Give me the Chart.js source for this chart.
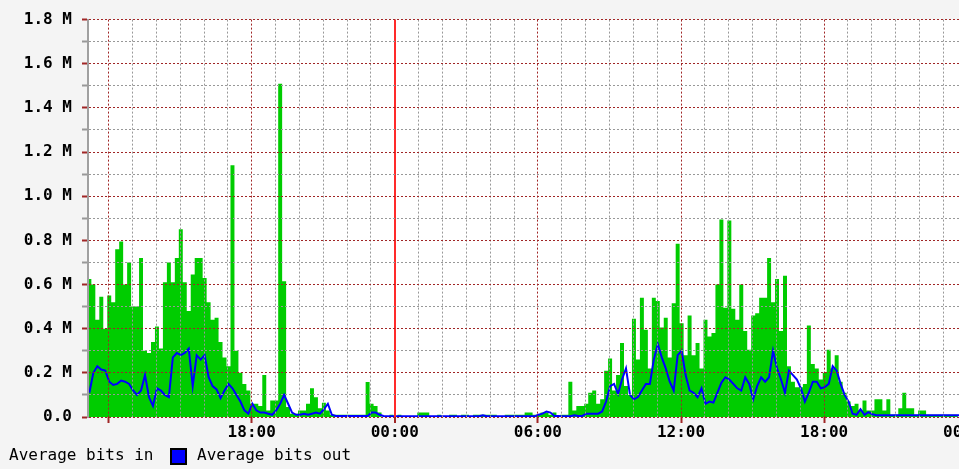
<!DOCTYPE html>
<html>
<head>
<meta charset="utf-8">
<title>Traffic</title>
<script src="https://cdn.jsdelivr.net/npm/chart.js@4.4.0/dist/chart.umd.min.js"></script>
<style>
  html, body { margin: 0; padding: 0; background: #f4f4f4; overflow: hidden; }
  #chart-container { position: absolute; left: 0; top: 0; width: 1000px; height: 469px; }
  .legend-text { position: absolute; top: 447px; font: 16px "DejaVu Sans Mono", monospace; line-height: 16px; color: #000; white-space: pre; }
  .legend-box { position: absolute; left: 170px; top: 448px; width: 13px; height: 13px; background: #0000ff; border: 2px solid #000; }
</style>
</head>
<body>
<div id="chart-container"><canvas id="myChart"></canvas></div>
<div class="legend-text" style="left:9px">Average bits in</div>
<div class="legend-box"></div>
<div class="legend-text" style="left:197px">Average bits out</div>
<script>
// sampel tiap 10 menit, jam dihitung dari tengah malam hari pertama (24 = 00:00)
const startHour = 11.11;
const stepHour = 1 / 6;

// rata-rata bit masuk (M)
const bitsIn = [
  0.42, 0.625, 0.60, 0.44, 0.545, 0.40, 0.55, 0.52, 0.76, 0.795,
  0.60, 0.70, 0.50, 0.50, 0.72, 0.30, 0.29, 0.34, 0.41, 0.31,
  0.61, 0.70, 0.61, 0.72, 0.85, 0.61, 0.48, 0.645, 0.72, 0.72,
  0.63, 0.52, 0.44, 0.45, 0.34, 0.27, 0.23, 1.14, 0.30, 0.20,
  0.15, 0.12, 0.06, 0.06, 0.05, 0.19, 0.03, 0.075, 0.075, 1.51,
  0.615, 0.045, 0.015, 0.015, 0.03, 0.03, 0.06, 0.13, 0.09, 0.04,
  0.065, 0.03, 0.01, 0.01, 0.01, 0.01, 0.01, 0.01, 0.01, 0.01,
  0.01, 0.158, 0.06, 0.05, 0.02, 0, 0, 0.01, 0, 0.01,
  0, 0, 0, 0, 0.02, 0.02, 0.02, 0, 0, 0.01,
  0, 0, 0.01, 0.01, 0, 0.01, 0.01, 0, 0.01, 0.01,
  0.01, 0.01, 0.01, 0.01, 0, 0, 0.01, 0.01, 0.01, 0.01,
  0.01, 0.02, 0.02, 0.01, 0.01, 0.02, 0.02, 0.01, 0.02, 0,
  0.01, 0.01, 0.16, 0.03, 0.05, 0.05, 0.06, 0.11, 0.12, 0.06,
  0.08, 0.21, 0.265, 0.12, 0.19, 0.335, 0.14, 0.10, 0.445, 0.26,
  0.54, 0.395, 0.22, 0.54, 0.525, 0.405, 0.45, 0.27, 0.515, 0.785,
  0.425, 0.28, 0.46, 0.28, 0.335, 0.22, 0.44, 0.365, 0.38, 0.60,
  0.895, 0.495, 0.89, 0.49, 0.44, 0.60, 0.39, 0.305, 0.46, 0.47,
  0.54, 0.54, 0.72, 0.52, 0.625, 0.39, 0.64, 0.23, 0.16, 0.135,
  0.135, 0.15, 0.415, 0.24, 0.22, 0.17, 0.20, 0.305, 0.22, 0.28,
  0.16, 0.11, 0.07, 0.05, 0.06, 0.03, 0.075, 0.03, 0.03, 0.08,
  0.08, 0.03, 0.08, 0.01, 0.01, 0.04, 0.11, 0.04, 0.04, 0.01,
  0.03, 0.03, 0.01, 0.01, 0.01, 0.01, 0.01, 0.01, 0.01, 0.01
];

// rata-rata bit keluar (M)
const bitsOut = [
  0.11, 0.20, 0.23, 0.215, 0.21, 0.16, 0.145, 0.15, 0.165, 0.16,
  0.15, 0.12, 0.10, 0.12, 0.19, 0.09, 0.05, 0.13, 0.12, 0.10,
  0.09, 0.27, 0.29, 0.28, 0.29, 0.31, 0.14, 0.28, 0.26, 0.28,
  0.18, 0.14, 0.125, 0.085, 0.12, 0.15, 0.13, 0.10, 0.07, 0.03,
  0.015, 0.06, 0.03, 0.02, 0.02, 0.015, 0.01, 0.03, 0.06, 0.10,
  0.06, 0.02, 0.01, 0.01, 0.015, 0.01, 0.015, 0.02, 0.015, 0.035,
  0.06, 0.01, 0.005, 0.005, 0.005, 0.005, 0.005, 0.005, 0.005, 0.005,
  0.005, 0.02, 0.02, 0.01, 0.005, 0.003, 0.003, 0.003, 0.003, 0.003,
  0.003, 0.003, 0.003, 0.003, 0.003, 0.003, 0.003, 0.003, 0.003, 0.003,
  0.003, 0.003, 0.003, 0.003, 0.003, 0.003, 0.003, 0.003, 0.003, 0.008,
  0.003, 0.003, 0.003, 0.003, 0.003, 0.003, 0.003, 0.003, 0.003, 0.003,
  0.003, 0.003, 0.003, 0.01, 0.015, 0.025, 0.02, 0.005, 0.005, 0.003,
  0.003, 0.003, 0.008, 0.005, 0.005, 0.015, 0.015, 0.015, 0.015, 0.025,
  0.07, 0.14, 0.15, 0.105, 0.17, 0.22, 0.10, 0.08, 0.09, 0.12,
  0.15, 0.15, 0.26, 0.33, 0.27, 0.22, 0.16, 0.12, 0.28, 0.30,
  0.19, 0.12, 0.11, 0.09, 0.13, 0.06, 0.07, 0.065, 0.11, 0.155,
  0.18, 0.17, 0.15, 0.13, 0.12, 0.18, 0.15, 0.08, 0.14, 0.18,
  0.16, 0.18, 0.30, 0.22, 0.17, 0.11, 0.21, 0.19, 0.17, 0.13,
  0.07, 0.11, 0.16, 0.16, 0.13, 0.135, 0.15, 0.23, 0.21, 0.15,
  0.10, 0.07, 0.015, 0.01, 0.035, 0.01, 0.022, 0.012, 0.008, 0.008,
  0.008, 0.008, 0.008, 0.008, 0.008, 0.008, 0.008, 0.008, 0.008, 0.008,
  0.008, 0.008, 0.008, 0.008, 0.008, 0.008, 0.008, 0.008, 0.008, 0.008
];

// label sumbu
const timeTickHours = [18, 24, 30, 36, 42, 48];
const timeTickLabels = ['18:00', '00:00', '06:00', '12:00', '18:00', '00:00'];
const rateTickLabels = ['0.0', '0.2 M', '0.4 M', '0.6 M', '0.8 M', '1.0 M', '1.2 M', '1.4 M', '1.6 M', '1.8 M'];

const gridRed = '#a02626';
const gridGray = '#989898';
const midnightRed = '#ff2a2a';
const tickFont = { family: 'DejaVu Sans Mono', size: 16, weight: 'bold' };

const inPoints = bitsIn.map((v, i) => ({ x: startHour + i * stepHour, y: v }));
const outPoints = bitsOut.map((v, i) => ({ x: startHour + (i + 0.5) * stepHour, y: v }));

// latar putih hanya di area plot
const plotBackground = {
  id: 'plotBackground',
  beforeDraw(chart) {
    const { ctx, chartArea: a } = chart;
    ctx.save();
    ctx.fillStyle = '#ffffff';
    ctx.fillRect(a.left, a.top, a.right - a.left, a.bottom - a.top);
    ctx.restore();
  }
};

function hourOf(ctx) {
  return ctx.tick ? Math.round(ctx.tick.value) : null;
}

function isMidnight(ctx) {
  const h = hourOf(ctx);
  return h !== null && h % 24 === 0;
}

function isSixHour(ctx) {
  const h = hourOf(ctx);
  return h !== null && h % 6 === 0;
}

function isEvenRate(ctx) {
  return ctx.tick ? Math.round(ctx.tick.value * 10) % 2 === 0 : false;
}

const ctx = document.getElementById('myChart').getContext('2d');
new Chart(ctx, {
  type: 'line',
  data: {
    datasets: [
      {
        label: 'Average bits in',
        data: inPoints,
        stepped: 'after',
        fill: 'origin',
        backgroundColor: '#00cc00',
        borderColor: '#00cc00',
        borderWidth: 0,
        pointRadius: 0,
        order: 2
      },
      {
        label: 'Average bits out',
        data: outPoints,
        fill: false,
        borderColor: '#0000ff',
        borderWidth: 2,
        tension: 0,
        pointRadius: 0,
        order: 1
      }
    ]
  },
  options: {
    responsive: true,
    maintainAspectRatio: false,
    animation: false,
    layout: { padding: { left: 0, top: 15, right: 0, bottom: 0 } },
    plugins: {
      legend: { display: false },
      tooltip: { enabled: false }
    },
    scales: {
      x: {
        type: 'linear',
        min: 11.136,
        max: 49.375,
        afterFit: (scale) => { scale.height = 52; },
        ticks: {
          stepSize: 1,
          autoSkip: false,
          includeBounds: false,
          maxRotation: 0,
          padding: 0,
          color: '#000',
          font: tickFont,
          callback: (v) => {
            const k = timeTickHours.indexOf(Math.round(v));
            return k >= 0 ? timeTickLabels[k] : '';
          }
        },
        grid: {
          z: 1,
          tickLength: 6,
          color: (c) => isMidnight(c) ? midnightRed : (isSixHour(c) ? gridRed : gridGray),
          lineWidth: (c) => isMidnight(c) ? 2 : 1,
          tickColor: (c) => isSixHour(c) ? gridRed : 'rgba(0,0,0,0)',
          tickWidth: 2
        },
        border: {
          display: false,
          z: 2,
          dash: (c) => isMidnight(c) ? [] : [2, 2]
        }
      },
      y: {
        min: 0,
        max: 1.8,
        afterFit: (scale) => { scale.width = 88; },
        ticks: {
          stepSize: 0.1,
          autoSkip: false,
          padding: 10,
          color: '#000',
          font: tickFont,
          callback: (v) => {
            const k = Math.round(v * 10);
            return k % 2 === 0 ? rateTickLabels[k / 2] : '';
          }
        },
        grid: {
          z: 1,
          tickLength: 6,
          color: (c) => isEvenRate(c) ? gridRed : gridGray,
          tickColor: (c) => isEvenRate(c) ? gridRed : gridGray,
          tickWidth: 2
        },
        border: {
          display: true,
          z: 2,
          color: '#a0a0a0',
          width: 2,
          dash: [2, 2]
        }
      }
    }
  },
  plugins: [plotBackground]
});
</script>
</body>
</html>
